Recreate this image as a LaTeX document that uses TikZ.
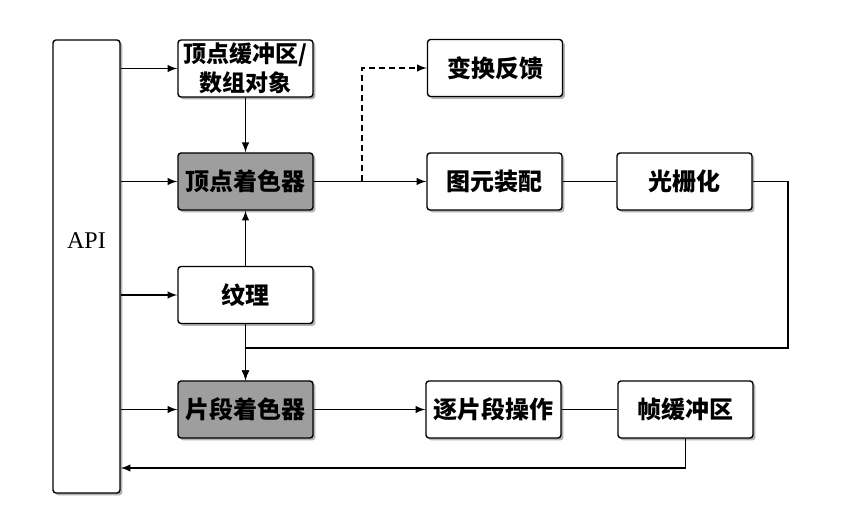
\documentclass[tikz,border=0pt]{standalone}
\usepackage{fontspec}
\newfontfamily\cjk{Noto Sans CJK SC}
\newfontfamily\apifont{Liberation Serif}
\usetikzlibrary{arrows.meta,arrows,shadows}
\tikzset{
stage/.style={
  draw=black,
  fill=white,
  line width=0.7pt,
  rounded corners=1.5pt,
  minimum width=67.5pt,
  minimum height=28.5pt,
  inner sep=0pt,
  align=center,
  font=\cjk\bfseries\fontsize{12}{15}\selectfont,
  drop shadow={shadow xshift=1.2pt,shadow yshift=-1.2pt,opacity=0.6}
  },
shader/.style={stage,fill=black!38},
link/.style={line width=0.7pt}
}

\begin{document}
\begin{tikzpicture}[>=latex,x=0.5pt,y=-0.5pt]
\useasboundingbox (0,0) rectangle (843,519);

% API column
\node[stage,minimum width=33.5pt,minimum height=226.5pt] (api) at (86.5,266.5) {};
\node[font=\apifont\fontsize{12}{14}\selectfont] (api-text) at (86.5,241) {API};

% left column
\node[stage,font=\cjk\bfseries\fontsize{11.5}{14.5}\selectfont] (vbo) at (245.5,68.5) {顶点缓冲区/\\数组对象};
\node[shader] (vs)  at (245.5,181.5) {顶点着色器};
\node[stage]  (tex) at (245.5,295)   {纹理};
\node[shader] (fs)  at (245.5,409.5) {片段着色器};

% right part
\node[stage] (tf)  at (495,68)      {变换反馈};
\node[stage] (pa)  at (494.5,181.5) {图元装配};
\node[stage] (ras) at (684.5,181.5) {光栅化};
\node[stage] (pfo) at (493.5,409.5) {逐片段操作};
\node[stage] (fb)  at (685.5,409.5) {帧缓冲区};

\coordinate (split) at (362,181.5);
\coordinate (back) at (788,348);
\coordinate (ret) at (687,468);

\draw[link,->] (api.east |- vbo) -- (vbo);
\draw[link,->] (api.east |- vs) -- (vs);
\draw[link,->] (api.east |- tex) -- (tex);
\draw[link,->] (api.east |- fs) -- (fs);

\draw[link,->] (vbo) -- (vs);
\draw[link,->] (tex) -- (vs);
\draw[link,->] (tex) -- (fs);

\draw[link,->] (vs) -- (pa);
\draw[link,->,densely dashed] (split) |- (tf);
\draw[link] (pa) -- (ras);
\draw[link,->] (ras.east) -| (back) -| (fs.north);

\draw[link,->] (fs) -- (pfo);
\draw[link] (pfo) -- (fb);
\draw[link,->] (fb.south) |- (api.east |- ret);
\end{tikzpicture}
\end{document}
